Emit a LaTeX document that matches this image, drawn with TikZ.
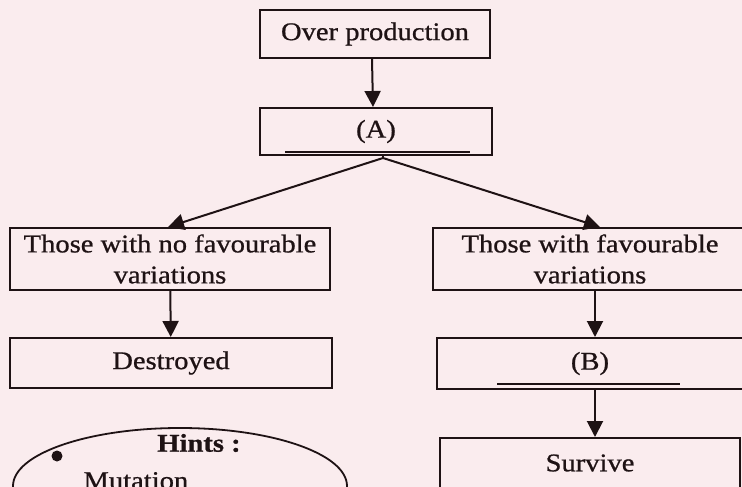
\documentclass[tikz,border=0pt]{standalone}
\usepackage{fontspec}
\setmainfont{Liberation Serif}[FakeStretch=1.12,FakeBold=0.8]
\usepackage{tikz}
\usetikzlibrary{positioning,arrows.meta,shapes.geometric}
\definecolor{paper}{RGB}{250,236,238}
\definecolor{ink}{RGB}{30,18,20}
\tikzset {
    style box/.style={
        draw=ink,
        line width=2pt,
        rectangle, % plain box
        inner sep=0pt,
        align=center,
        text=ink,
    },
    style hint/.style={
        draw=ink,
        line width=1.8pt,
        ellipse, % hints oval
        inner sep=0pt,
    },
    style arrow/.style={
        draw=ink,
        line width=2pt,
        -{Triangle[width=16pt,length=16pt]},
    },
}
\begin{document}
\begin{tikzpicture}
        [x=1pt, y=-1pt, font=\fontsize{25.5}{31}\selectfont]

        \useasboundingbox (0,0) rectangle (742,487);
        \fill[paper] (0,0) rectangle (742,487);
        \clip (0,0) rectangle (742,487);

        \node[style box, minimum width=230pt, minimum height=48pt] at (375,34) (over) {Over production};
        \node[style box, minimum width=232pt, minimum height=47pt] at (376,131.5) (boxA) {(A)};
        \node[style box, minimum width=320pt, minimum height=62pt] at (170,259) (nofav) {Those with no favourable\\variations};
        \node[style box, minimum width=322pt, minimum height=50pt] at (171,363) (destroyed) {Destroyed};
        \node[style box, minimum width=314pt, minimum height=62pt] at (590,259) (fav) {Those with favourable\\variations};
        \node[style box, minimum width=306pt, minimum height=51pt] at (590,363.5) (boxB) {(B)};
        \node[style box, minimum width=300pt, minimum height=50pt] at (590,463) (survive) {Survive};

        % hints oval
        \node[style hint, minimum width=334pt, minimum height=116pt] at (180,486) (hints) {};
        \node[text=ink] at (199,443) (hinttitle) {\textbf{Hints :}};
        \node[circle, fill=ink, inner sep=0pt, minimum size=11pt] at (57,456) (dot) {};
        \node[text=ink, anchor=base west] at (80,489) (mutation) {Mutation};

        % blanks
        \draw[ink, line width=1.8pt] ([xshift=-91pt,yshift=4pt]boxA.south) -- ++(185,0);
        \draw[ink, line width=1.8pt] ([xshift=-93pt,yshift=6pt]boxB.south) -- ++(183,0);

        \coordinate (fork) at (383,158);
        \draw[style arrow] ([xshift=-3pt]over.south) -- ([xshift=-3pt]boxA.north);
        \draw[ink, line width=2pt] (boxA.south -| fork) -- (fork);
        \draw[style arrow] (fork) -- ([xshift=-2pt]nofav.north);
        \draw[style arrow] (fork) -- ([xshift=10pt]fav.north);
        \draw[style arrow] (nofav) -- (destroyed);
        \draw[style arrow] ([xshift=5pt]fav.south) -- ([xshift=5pt]boxB.north);
        \draw[style arrow] ([xshift=5pt]boxB.south) -- ([xshift=5pt]survive.north);
    \end{tikzpicture}
\end{document}
